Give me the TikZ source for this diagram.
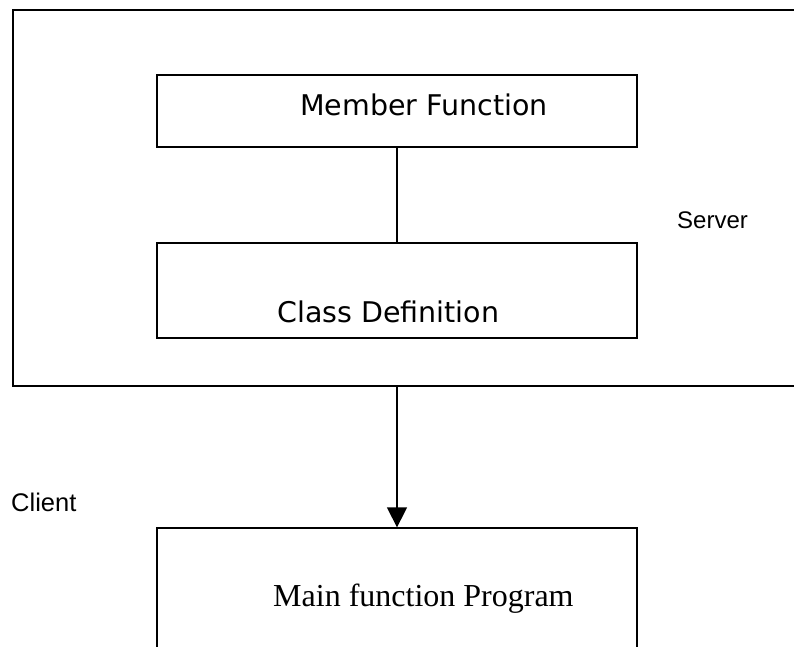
\documentclass[tikz,border=0pt]{standalone}
\usepackage{fontspec}
\setmainfont{Liberation Serif}
\newfontfamily\boxfont{DejaVu Sans}
\newfontfamily\tagfont{Liberation Sans}
\usetikzlibrary{arrows.meta}
\tikzset{
  panel/.style={draw, line width=1.3pt, rectangle, inner sep=0pt},
  region/.style={draw, line width=1.8pt, rectangle, inner sep=0pt},
  boxlabel/.style={anchor=base west, inner sep=0pt, font=\boxfont\fontsize{28.5}{34}\selectfont},
  mainlabel/.style={anchor=base west, inner sep=0pt, font=\fontsize{32}{38}\selectfont},
  taglabel/.style={anchor=base west, inner sep=0pt, font=\tagfont\fontsize{24}{29}\selectfont},
  link/.style={line width=1.3pt},
}
\begin{document}
\begin{tikzpicture}[x=1pt, y=-1pt]
  \useasboundingbox (0,0) rectangle (794,646);
  \clip (0,0) rectangle (794,646);

  % server area, open past the right edge
  \node[region, minimum width=787pt, minimum height=376pt] (server) at (406.5,198) {};

  % boxes
  \node[panel, minimum width=480pt, minimum height=72pt] (member) at (397,111) {};
  \node[panel, minimum width=480pt, minimum height=95pt] (cls) at (397,290.5) {};
  \node[panel, minimum width=480pt, minimum height=160pt] (mainbox) at (397,608) {};

  % texts
  \node[boxlabel] (memberlbl) at (300,115) {Member Function};
  \node[boxlabel] (clslbl) at (277,322) {Class Definition};
  \node[mainlabel] (mainlbl) at (273,606) {Main function Program};
  \node[taglabel] (serverlbl) at (677,228) {Server};
  \node[taglabel, font=\tagfont\fontsize{25.5}{30}\selectfont] (clientlbl) at (11,511) {Client};

  % connectors
  \draw[link] (member.south) -- (cls.north);
  \draw[link, -{Triangle[length=20pt, width=20pt]}] (cls.south |- server.south) -- (mainbox.north);
\end{tikzpicture}
\end{document}
